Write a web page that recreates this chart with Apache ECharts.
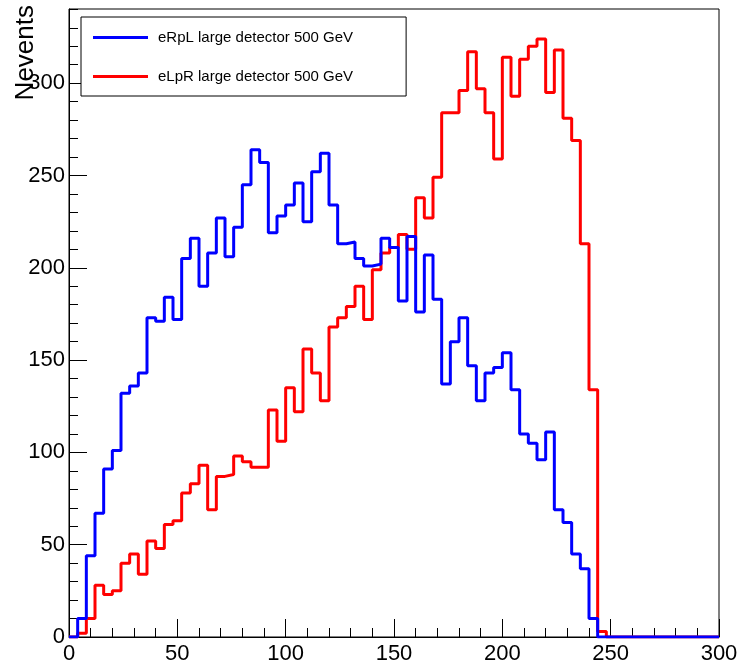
<!DOCTYPE html>
<html>
<head>
<meta charset="utf-8">
<title>Nevents</title>
<script src="https://cdn.jsdelivr.net/npm/echarts@6/dist/echarts.min.js"></script>
<style>
    html, body { margin: 0; padding: 0; background: #fff; }
    #myChart { width: 744px; height: 669px; }
</style>
</head>
<body>
<div id="myChart"></div>
<script>
// histogram bins: 75 bins of width 4, from 0 to 300
const binWidth = 4;
const binCount = 75;

const nameRpL = 'eRpL large detector 500 GeV';
const nameLpR = 'eLpR large detector 500 GeV';

// counts per bin
const countsRpL = [
    0, 10, 44, 67, 91, 101, 132, 136, 143, 173,
    171, 184, 172, 205, 216, 190, 208, 227, 206, 222,
    245, 264, 257, 219, 228, 234, 246, 225, 252, 262,
    234, 213, 214, 205, 201, 202, 216, 211, 182, 217,
    176, 207, 183, 137, 160, 173, 147, 128, 143, 146,
    154, 134, 110, 105, 96, 111, 69, 62, 45, 37,
    10, 0, 0, 0, 0, 0, 0, 0, 0, 0,
    0, 0, 0, 0, 0
];
const countsLpR = [
    0, 2, 10, 28, 23, 25, 40, 45, 34, 52,
    48, 61, 63, 78, 83, 93, 69, 87, 88, 98,
    95, 92, 92, 123, 106, 135, 122, 156, 143, 128,
    168, 173, 179, 190, 172, 199, 208, 211, 218, 210,
    238, 227, 249, 284, 284, 296, 317, 297, 284, 259,
    314, 293, 313, 320, 324, 295, 318, 281, 269, 213,
    134, 3, 0, 0, 0, 0, 0, 0, 0, 0,
    0, 0, 0, 0, 0
];

const xTicks = { min: 0, max: 300, step: 50 };
const yTicks = { min: 0, max: 340.2, step: 50, minorStep: 10 };

const fontName = '"Liberation Sans", Arial, Helvetica, sans-serif';

// points at the low edge of each bin, plus the closing edge at the end
function histPoints(counts) {
    let pts = [];
    for (let i = 0; i <= binCount; i++) {
        pts.push([i * binWidth, counts[Math.min(i, binCount - 1)]]);
    }
    return pts;
}

let myChart = echarts.init(document.getElementById('myChart'));

myChart.setOption({
    animation: false,
    backgroundColor: '#fff',
    grid: {
        left: 69,
        right: 25,
        top: 9,
        bottom: 32,
        show: true,
        borderColor: '#000',
        borderWidth: 1
    },
    legend: {
        data: [nameRpL, nameLpR],
        orient: 'vertical',
        left: 81,
        top: 17,
        padding: [13, 53, 12, 12],
        itemGap: 24,
        itemWidth: 55,
        itemHeight: 3,
        icon: 'rect',
        backgroundColor: '#fff',
        borderColor: '#000',
        borderWidth: 1,
        borderRadius: 0,
        textStyle: {
            fontFamily: fontName,
            fontSize: 15,
            color: '#000',
            padding: [0, 0, 0, 5]
        }
    },
    xAxis: {
        type: 'value',
        min: xTicks.min,
        max: xTicks.max,
        interval: xTicks.step,
        axisLine: { lineStyle: { color: '#000', width: 1 } },
        axisTick: { inside: true, length: 18, lineStyle: { color: '#000' } },
        minorTick: { show: true, splitNumber: 5, length: 9, lineStyle: { color: '#000' } },
        splitLine: { show: false },
        axisLabel: {
            fontFamily: fontName,
            fontSize: 22,
            color: '#000',
            margin: 6
        }
    },
    yAxis: [
        {
            type: 'value',
            position: 'left',
            min: yTicks.min,
            max: yTicks.max,
            interval: yTicks.step,
            axisLine: { show: true, lineStyle: { color: '#000', width: 1 } },
            axisTick: { show: true, inside: true, length: 18, lineStyle: { color: '#000' } },
            splitLine: { show: false },
            axisLabel: {
                fontFamily: fontName,
                fontSize: 22,
                color: '#000',
                margin: 4,
                showMaxLabel: false
            }
        },
        {
            // small ticks every 10
            type: 'value',
            position: 'left',
            min: yTicks.min,
            max: yTicks.max,
            interval: yTicks.minorStep,
            axisLine: { show: false },
            axisTick: { show: true, inside: true, length: 9, lineStyle: { color: '#000' } },
            splitLine: { show: false },
            axisLabel: { show: false }
        }
    ],
    graphic: [
        {
            type: 'text',
            x: 26,
            y: 5,
            rotation: Math.PI / 2,
            style: {
                text: 'Nevents',
                fontFamily: fontName,
                fontSize: 26,
                fill: '#000',
                align: 'right',
                verticalAlign: 'middle'
            }
        }
    ],
    series: [
        {
            name: nameLpR,
            type: 'line',
            step: 'end',
            showSymbol: false,
            color: '#ff0000',
            lineStyle: { color: '#ff0000', width: 3 },
            data: histPoints(countsLpR)
        },
        {
            name: nameRpL,
            type: 'line',
            step: 'end',
            showSymbol: false,
            color: '#0000ff',
            lineStyle: { color: '#0000ff', width: 3 },
            data: histPoints(countsRpL)
        }
    ]
});
</script>
</body>
</html>
